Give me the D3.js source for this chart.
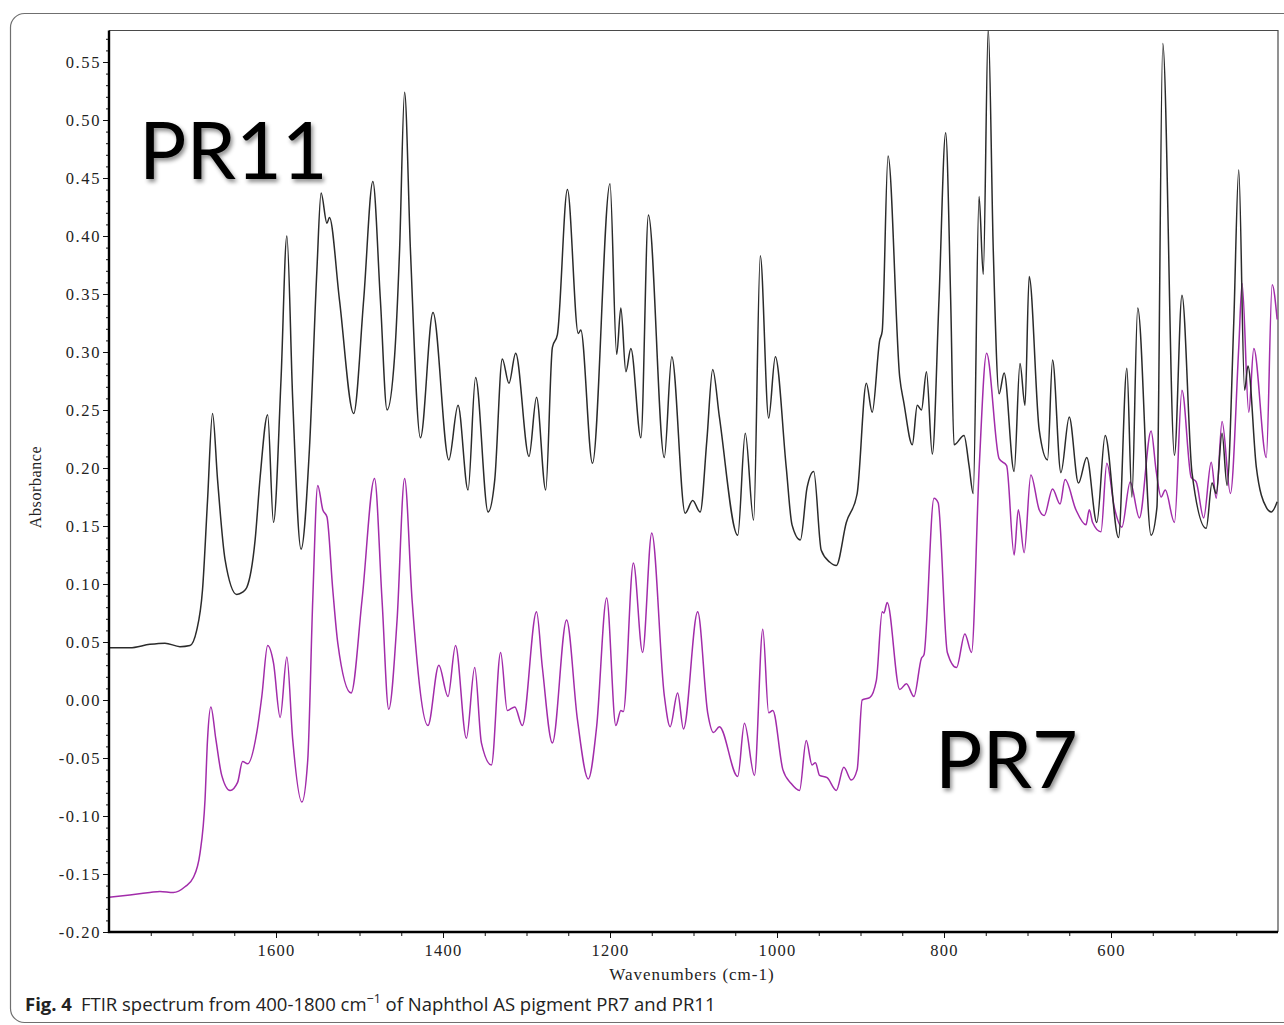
<!DOCTYPE html>
<html>
<head>
<meta charset="utf-8">
<script src="https://cdn.jsdelivr.net/npm/d3@7/dist/d3.min.js"></script>
<style>
  html, body { margin: 0; padding: 0; background: #fff; }
  svg { display: block; }
  .tick text { font-family: "Liberation Serif", "Times New Roman", serif; }
</style>
</head>
<body>
<svg id="chart" width="1284" height="1025"></svg>
<script>
// FTIR absorbance spectra, [wavenumber cm-1, absorbance]
const pr11 = [
  [1800,0.045],[1775,0.045],[1751,0.048],[1733,0.049],[1715,0.046],[1703,0.047],[1695,0.060],
  [1688,0.095],[1682,0.172],[1676,0.247],[1670,0.190],[1661,0.121],[1647,0.091],[1640,0.093],
  [1635,0.097],[1625,0.138],[1619,0.192],[1610,0.246],[1603,0.153],[1594,0.276],[1587,0.400],
  [1580,0.259],[1570,0.130],[1560,0.216],[1551,0.371],[1546,0.437],[1539,0.411],[1536,0.416],
  [1524,0.345],[1507,0.247],[1495,0.345],[1484,0.447],[1475,0.345],[1467,0.250],[1458,0.296],
  [1452,0.388],[1446,0.524],[1439,0.388],[1427,0.226],[1412,0.334],[1393,0.207],[1382,0.254],
  [1370,0.181],[1361,0.278],[1346,0.162],[1338,0.190],[1329,0.294],[1321,0.273],[1313,0.299],
  [1297,0.210],[1288,0.261],[1277,0.181],[1269,0.304],[1263,0.315],[1251,0.440],[1238,0.316],
  [1235,0.319],[1221,0.204],[1200,0.445],[1192,0.298],[1187,0.338],[1181,0.283],[1175,0.303],
  [1163,0.226],[1154,0.418],[1135,0.209],[1126,0.296],[1110,0.161],[1101,0.172],[1092,0.162],
  [1084,0.224],[1077,0.285],[1069,0.244],[1047,0.142],[1038,0.230],[1028,0.155],[1020,0.383],
  [1010,0.243],[1002,0.296],[989,0.201],[982,0.151],[972,0.138],[964,0.183],[956,0.197],
  [947,0.129],[937,0.119],[929,0.116],[917,0.153],[904,0.178],[893,0.273],[886,0.248],
  [877,0.310],[874,0.318],[867,0.469],[853,0.278],[848,0.256],[838,0.220],[832,0.254],
  [827,0.250],[821,0.283],[814,0.212],[806,0.345],[798,0.489],[792,0.345],[788,0.220],
  [776,0.228],[770,0.202],[765,0.178],[758,0.434],[753,0.367],[747,0.579],[741,0.388],
  [734,0.264],[728,0.282],[716,0.197],[709,0.290],[703,0.254],[698,0.365],[686,0.233],
  [676,0.207],[670,0.293],[660,0.196],[650,0.244],[639,0.187],[629,0.209],[617,0.153],
  [607,0.228],[591,0.140],[581,0.286],[575,0.175],[568,0.338],[552,0.142],[545,0.166],
  [538,0.566],[524,0.211],[515,0.349],[503,0.196],[486,0.148],[479,0.187],[474,0.178],
  [467,0.230],[461,0.185],[453,0.325],[447,0.457],[440,0.267],[436,0.288],[426,0.201],
  [414,0.166],[408,0.162],[401,0.171]
];

const pr7 = [
  [1800,-0.170],[1775,-0.168],[1751,-0.166],[1739,-0.165],[1723,-0.166],[1709,-0.161],
  [1699,-0.153],[1691,-0.132],[1685,-0.086],[1682,-0.034],[1678,-0.006],[1672,-0.034],
  [1665,-0.065],[1655,-0.078],[1646,-0.071],[1640,-0.053],[1634,-0.055],[1623,-0.028],
  [1617,0.003],[1610,0.047],[1603,0.032],[1595,-0.015],[1587,0.037],[1580,-0.034],
  [1569,-0.088],[1562,-0.052],[1556,0.086],[1550,0.185],[1544,0.164],[1539,0.158],
  [1532,0.095],[1526,0.049],[1510,0.006],[1497,0.086],[1482,0.191],[1473,0.086],
  [1465,-0.008],[1455,0.069],[1446,0.191],[1437,0.086],[1418,-0.022],[1405,0.030],
  [1394,0.003],[1385,0.047],[1372,-0.033],[1362,0.028],[1354,-0.037],[1342,-0.056],
  [1331,0.041],[1323,-0.009],[1314,-0.006],[1305,-0.022],[1288,0.076],[1281,0.028],
  [1269,-0.037],[1252,0.069],[1239,-0.017],[1226,-0.068],[1216,-0.023],[1204,0.088],
  [1193,-0.022],[1187,-0.009],[1184,-0.010],[1172,0.118],[1161,0.041],[1150,0.144],
  [1135,0.004],[1128,-0.023],[1119,0.006],[1112,-0.025],[1095,0.076],[1083,-0.011],
  [1076,-0.028],[1069,-0.023],[1047,-0.066],[1039,-0.020],[1027,-0.065],[1017,0.061],
  [1010,-0.011],[1005,-0.009],[993,-0.060],[983,-0.072],[973,-0.078],[965,-0.035],
  [958,-0.056],[954,-0.054],[949,-0.065],[940,-0.067],[929,-0.078],[920,-0.058],
  [911,-0.069],[904,-0.060],[898,0.000],[889,0.002],[881,0.017],[874,0.076],[872,0.075],
  [868,0.084],[853,0.009],[845,0.014],[836,0.003],[827,0.036],[824,0.039],[812,0.174],
  [807,0.170],[796,0.041],[785,0.028],[775,0.057],[767,0.041],[758,0.198],[749,0.299],
  [734,0.208],[725,0.202],[716,0.125],[711,0.164],[704,0.127],[696,0.194],[686,0.164],
  [680,0.159],[670,0.182],[661,0.169],[655,0.190],[642,0.164],[630,0.151],[626,0.164],
  [622,0.153],[612,0.145],[605,0.204],[596,0.166],[587,0.149],[577,0.188],[566,0.157],
  [552,0.232],[546,0.198],[540,0.175],[535,0.181],[524,0.153],[515,0.267],[504,0.192],
  [498,0.188],[489,0.157],[480,0.205],[474,0.174],[467,0.240],[457,0.178],[447,0.304],
  [443,0.359],[435,0.248],[429,0.303],[414,0.209],[407,0.358],[401,0.328]
];

const xMajorTicks = [1600, 1400, 1200, 1000, 800, 600];
const yMajorTicks = [-0.20, -0.15, -0.10, -0.05, 0.00, 0.05, 0.10, 0.15, 0.20,
                     0.25, 0.30, 0.35, 0.40, 0.45, 0.50, 0.55];
const seriesLabels = ["PR11", "PR7"];

const svg = d3.select("#chart");

// plot area
const plotLeft = 109, plotRight = 1278, plotTop = 30.5, plotBottom = 932;
const x = d3.scaleLinear().domain([1800, 400]).range([plotLeft, plotRight]);
const y = d3.scaleLinear().domain([-0.20, 0.55]).range([plotBottom, 62]);

// outer figure frame
svg.append("rect")
  .attr("x", 10.5).attr("y", 13.5)
  .attr("width", 1320).attr("height", 1009)
  .attr("rx", 14).attr("ry", 14)
  .attr("fill", "none").attr("stroke", "#6f6f6f").attr("stroke-width", 1.2);

// drop shadow for the sample labels
const defs = svg.append("defs");
const shadow = defs.append("filter").attr("id", "soft-shadow")
  .attr("x", "-20%").attr("y", "-20%").attr("width", "140%").attr("height", "150%");
shadow.append("feDropShadow")
  .attr("dx", 2).attr("dy", 3).attr("stdDeviation", 2.2)
  .attr("flood-color", "#000").attr("flood-opacity", 0.45);

defs.append("clipPath").attr("id", "plot-clip")
  .append("rect").attr("x", plotLeft).attr("y", plotTop)
  .attr("width", plotRight - plotLeft).attr("height", plotBottom - plotTop);

// thin top and right plot borders
svg.append("path")
  .attr("d", `M${plotLeft},${plotTop}H${plotRight}V${plotBottom}`)
  .attr("fill", "none").attr("stroke", "#4a4a4a").attr("stroke-width", 1.2);

// spectra
const line = d3.line()
  .x(d => x(d[0]))
  .y(d => y(d[1]))
  .curve(d3.curveMonotoneX);

const plot = svg.append("g").attr("clip-path", "url(#plot-clip)");
plot.append("path").datum(pr7)
  .attr("d", line)
  .attr("fill", "none").attr("stroke", "#a22caa").attr("stroke-width", 1.5);
plot.append("path").datum(pr11)
  .attr("d", line)
  .attr("fill", "none").attr("stroke", "#2b2b2b").attr("stroke-width", 1.5);

// y axis: minor ticks, then labelled major ticks (hyphen for negatives)
const yFmt = d => d3.format(".2f")(d).replace("\u2212", "-");
const yMinor = d3.range(-0.20, 0.5751, 0.01);
svg.append("g").attr("transform", `translate(${plotLeft},0)`)
  .call(d3.axisLeft(y).tickValues(yMinor).tickSize(3).tickFormat(""))
  .call(g => g.select(".domain").remove())
  .call(g => g.selectAll("line").attr("stroke", "#111"));

const yAxis = svg.append("g").attr("transform", `translate(${plotLeft},0)`)
  .call(d3.axisLeft(y).tickValues(yMajorTicks).tickSize(6).tickPadding(2)
    .tickFormat(yFmt));
yAxis.select(".domain").remove();
yAxis.selectAll("line").attr("stroke", "#111");
yAxis.selectAll("text")
  .attr("font-size", 16.5).attr("letter-spacing", "1.6px")
  .attr("fill", "#222").attr("dy", "0.36em");

// x axis: minor ticks every 50, labelled majors every 200
const xMinor = d3.range(1750, 400, -50);
svg.append("g").attr("transform", `translate(0,${plotBottom})`)
  .call(d3.axisBottom(x).tickValues(xMinor).tickSize(4).tickFormat(""))
  .call(g => g.select(".domain").remove())
  .call(g => g.selectAll("line").attr("stroke", "#111"));

const xAxis = svg.append("g").attr("transform", `translate(0,${plotBottom})`)
  .call(d3.axisBottom(x).tickValues(xMajorTicks).tickSize(6).tickPadding(6)
    .tickFormat(d3.format("d")));
xAxis.select(".domain").remove();
xAxis.selectAll("line").attr("stroke", "#111");
xAxis.selectAll("text")
  .attr("font-size", 16.5).attr("letter-spacing", "1.2px").attr("fill", "#222");

// heavy left and bottom axis lines
svg.append("path")
  .attr("d", `M${plotLeft},${plotTop}V${plotBottom}H${plotRight}`)
  .attr("fill", "none").attr("stroke", "#000").attr("stroke-width", 2.4);

// axis titles
svg.append("text")
  .attr("transform", "translate(41,487) rotate(-90)")
  .attr("text-anchor", "middle")
  .attr("font-family", "Liberation Serif, Times New Roman, serif")
  .attr("font-size", 16).attr("letter-spacing", "0.6px").attr("fill", "#222")
  .text("Absorbance");

svg.append("text")
  .attr("x", 692).attr("y", 980)
  .attr("text-anchor", "middle")
  .attr("font-family", "Liberation Serif, Times New Roman, serif")
  .attr("font-size", 17).attr("letter-spacing", "1px").attr("fill", "#222")
  .text("Wavenumbers (cm-1)");

// sample labels
const labelPos = [[139, 179], [935, 788]];
svg.selectAll(".sample-label").data(seriesLabels).join("text")
  .attr("class", "sample-label")
  .attr("x", (d, i) => labelPos[i][0]).attr("y", (d, i) => labelPos[i][1])
  .attr("font-family", "Lato, 'Open Sans', sans-serif")
  .attr("font-size", 79).attr("fill", "#000")
  .attr("filter", "url(#soft-shadow)")
  .text(d => d);

// caption
const cap = svg.append("text")
  .attr("x", 25).attr("y", 1011)
  .attr("font-family", "'Open Sans', 'Noto Sans', sans-serif")
  .attr("font-size", 18.5).attr("fill", "#222");
cap.append("tspan").attr("font-weight", "bold").text("Fig. 4");
cap.append("tspan").attr("dx", 9).text("FTIR spectrum from 400-1800 cm");
cap.append("tspan").attr("dy", -8).attr("font-size", 12.5).text("\u22121");
cap.append("tspan").attr("dy", 8).text(" of Naphthol AS pigment PR7 and PR11");
</script>
</body>
</html>
